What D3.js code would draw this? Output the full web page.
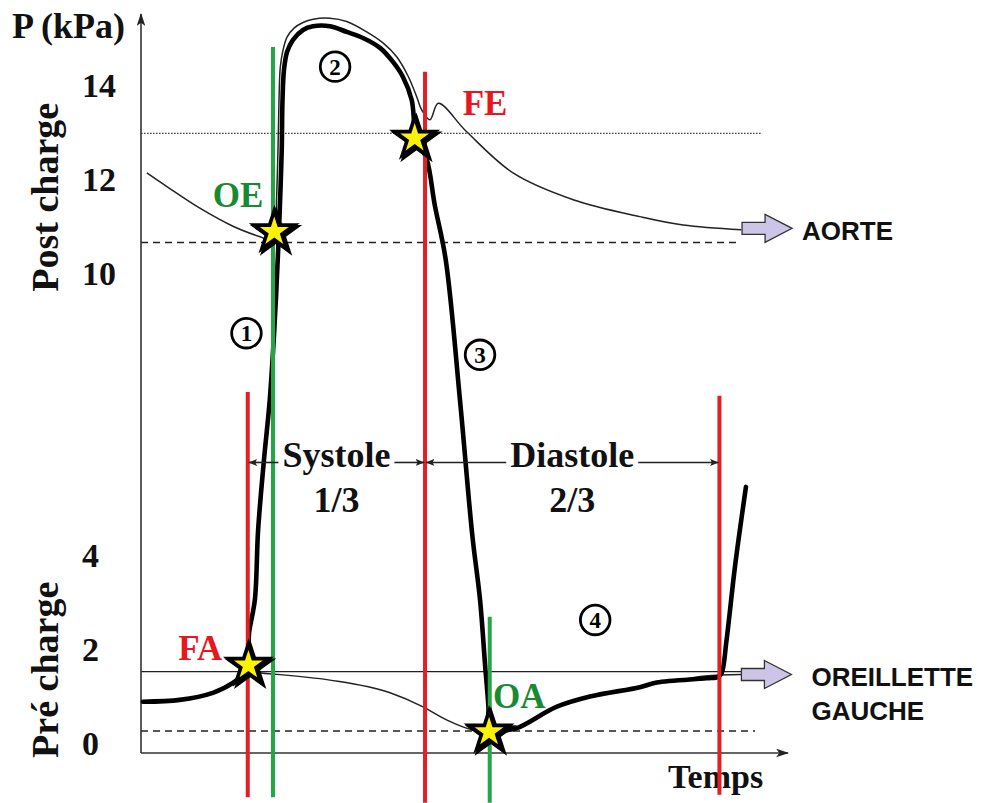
<!DOCTYPE html>
<html><head><meta charset="utf-8">
<script src="https://cdn.jsdelivr.net/npm/d3@7"></script>
<style>body{margin:0;background:#fff}svg{display:block}</style>
</head><body>
<svg id="c" width="982" height="803"></svg>
<script>
// ---- DATA (time in arbitrary units 0–100, pressure in kPa) ----
const ventricleT = [0.3, 6.0, 11.1, 14.2, 16.1, 16.6, 16.7, 17.6, 18.1, 19.0, 19.9, 20.6, 21.2, 21.5, 21.75, 21.87, 22.1, 22.57, 23.49, 25.04, 26.58, 29.21, 31.79, 34.31, 36.94, 38.95, 40.49, 41.84, 42.5, 44.2, 45.4, 47.1, 49.3, 51.2, 52.4, 53.2, 53.7, 53.85, 55.5, 58.1, 64.2, 69.4, 77.1, 79.7, 87.4, 89.2, 89.75, 90.5, 91.8, 93.5];
const ventricleP = [0.87, 0.91, 1.06, 1.27, 1.51, 1.86, 2.33, 3.04, 4.52, 6.01, 7.29, 8.78, 10.48, 11.54, 12.60, 13.67, 14.31, 14.69, 14.95, 15.16, 15.24, 15.24, 15.12, 14.99, 14.78, 14.48, 14.16, 13.67, 12.92, 12.39, 11.44, 10.27, 7.29, 4.42, 3.04, 1.62, 0.76, 0.23, 0.25, 0.31, 0.76, 0.98, 1.18, 1.28, 1.37, 1.40, 1.48, 2.18, 3.74, 5.44];

const aortaT = [0.9, 4.0, 9.1, 14.3, 18.4, 20.56, 20.94, 21.17, 21.33, 21.53, 21.95, 22.57, 23.65, 25.04, 26.63, 29.21, 31.79, 34.88, 37.45, 39.52, 41.31, 42.61, 43.38, 44.67, 45.95, 50.3, 57.5, 66.8, 77.1, 83.8, 92.8];
const aortaP = [12.12, 11.83, 11.37, 10.98, 10.76, 10.67, 11.54, 12.60, 13.67, 14.37, 14.73, 15.01, 15.20, 15.32, 15.39, 15.41, 15.34, 15.12, 14.88, 14.59, 14.17, 13.74, 13.46, 13.25, 13.60, 13.00, 12.12, 11.55, 11.19, 11.01, 10.91];

const atriumT = [16.6, 18.6, 20.4, 29.2, 38.5, 43.6, 47.3, 51.3, 53.85];
const atriumP = [1.59, 1.48, 1.46, 1.33, 1.06, 0.76, 0.48, 0.27, 0.23];
const atriumTailT = [83.3, 87.2, 92.8];
const atriumTailP = [1.33, 1.42, 1.45];

const eventNames = ["FA", "OE", "FE", "OA", "FA"];
const eventT = [16.5, 20.4, 43.9, 53.9, 89.4];
const eventTopP = [7.46, 14.80, 14.27, 2.68, 7.38];
const eventBottomP = [-1.16, -1.16, -1.28, -1.28, -1.11];

const starNames = ["FA", "OE", "FE", "OA"];
const starT = [16.6, 20.6, 42.3, 53.8];
const starP = [1.65, 10.87, 12.86, 0.23];

const refLineP = [12.96, 10.64, 1.51, 0.25];
const refLineEndT = [96.0, 92.3, 92.9, 94.9];
const refLineKind = ["dotted", "dashed", "solid", "dashed"];

const yTickValues = [0, 2, 4, 10, 12, 14];
const yTitle = "P (kPa)";
const xTitle = "Temps";
const zoneTitles = ["Post charge", "Pré charge"];
const zoneCenterP = [11.6, 1.55];

const phaseNames = ["Systole", "Diastole"];
const phaseFractions = ["1/3", "2/3"];
const phaseStartT = [16.5, 43.9];
const phaseEndT = [43.9, 89.4];
const phaseLevelP = 5.96;

const stepNumbers = ["1", "2", "3", "4"];
const stepT = [16.3, 30.0, 52.4, 70.2];
const stepP = [8.71, 14.38, 8.25, 2.61];

const outletNames = [["AORTE"], ["OREILLETTE", "GAUCHE"]];
const outletT = [92.9, 92.8];
const outletP = [10.94, 1.45];

// ---- STYLES / LAYOUT ----
const RED = "#e31e24", GREEN = "#22a744", RED_TXT = "#e8161e", GREEN_TXT = "#178a32";
const SERIF = "'Liberation Serif','Times New Roman',serif";
const SANS = "'Liberation Sans',Arial,sans-serif";

const svg = d3.select("#c");
const x = d3.scaleLinear().domain([0, 100]).range([141, 788]);
const y = d3.scaleLinear().domain([-0.22, 15.5]).range([753, 14]);

const defs = svg.append("defs");
defs.append("marker").attr("id", "axArrow").attr("viewBox", "0 0 12 8")
  .attr("refX", 11).attr("refY", 4).attr("markerWidth", 13).attr("markerHeight", 9)
  .attr("markerUnits", "userSpaceOnUse").attr("orient", "auto")
  .append("path").attr("d", "M0,0L12,4L0,8L3,4Z").attr("fill", "#222");
defs.append("marker").attr("id", "phArrow").attr("viewBox", "0 0 10 8")
  .attr("refX", 9.5).attr("refY", 4).attr("markerWidth", 9).attr("markerHeight", 7)
  .attr("markerUnits", "userSpaceOnUse").attr("orient", "auto")
  .append("path").attr("d", "M0,0L10,4L0,8L2,4Z").attr("fill", "#222");

const pts = (T, P) => T.map((t, i) => [t, P[i]]);
const line = d3.line().x(d => x(d[0])).y(d => y(d[1]));
const smooth = d3.line().x(d => x(d[0])).y(d => y(d[1])).curve(d3.curveMonotoneX);
const round = d3.line().x(d => x(d[0])).y(d => y(d[1])).curve(d3.curveCatmullRom.alpha(0.5));

// reference horizontal lines
refLineP.forEach((p, i) => {
  const k = refLineKind[i];
  svg.append("path").attr("d", line([[0, p], [refLineEndT[i], p]]))
    .attr("fill", "none")
    .attr("stroke", k === "dotted" ? "#444" : "#222")
    .attr("stroke-width", k === "dotted" ? 1.3 : (k === "solid" ? 1.3 : 1.5))
    .attr("stroke-dasharray", k === "dotted" ? "1.6,1.4" : (k === "dashed" ? "7,5" : null));
});

// axes
const yAxis = d3.axisLeft(y).tickValues(yTickValues).tickSize(0).tickFormat(d3.format("d"));
const gy = svg.append("g").attr("transform", `translate(${x(0)},0)`).call(yAxis);
gy.select(".domain").remove();
gy.selectAll("text").attr("x", 82 - x(0)).attr("text-anchor", "start")
  .attr("dy", "0.34em").style("font-family", SERIF).style("font-weight", "bold")
  .style("font-size", "34px").attr("fill", "#111");
const xAxis = d3.axisBottom(x).tickValues([]).tickSizeOuter(0);
const gx = svg.append("g").attr("transform", `translate(0,${y(-0.22)})`).call(xAxis);
gx.select(".domain").remove();

svg.append("path").attr("d", line([[0, -0.22], [0, 15.5]]))
  .attr("stroke", "#333").attr("stroke-width", 1.6).attr("fill", "none").attr("marker-end", "url(#axArrow)");
svg.append("path").attr("d", line([[0, -0.22], [100, -0.22]]))
  .attr("stroke", "#333").attr("stroke-width", 1.6).attr("fill", "none").attr("marker-end", "url(#axArrow)");

// titles
svg.append("text").attr("x", 12).attr("y", 38).text(yTitle)
  .style("font-family", SERIF).style("font-weight", "bold").style("font-size", "36px").attr("fill", "#111");
svg.append("text").attr("x", 668).attr("y", 788).text(xTitle)
  .style("font-family", SERIF).style("font-weight", "bold").style("font-size", "34px").attr("fill", "#111");
zoneTitles.forEach((t, i) => {
  svg.append("text").attr("transform", `translate(58,${y(zoneCenterP[i])}) rotate(-90)`)
    .attr("text-anchor", "middle").text(t)
    .style("font-family", SERIF).style("font-weight", "bold").style("font-size", "38px").attr("fill", "#111");
});

// curves
svg.append("path").attr("d", round(pts(aortaT, aortaP)))
  .attr("fill", "none").attr("stroke", "#222").attr("stroke-width", 1.5);
svg.append("path").attr("d", smooth(pts(atriumT, atriumP)))
  .attr("fill", "none").attr("stroke", "#222").attr("stroke-width", 1.5);
svg.append("path").attr("d", smooth(pts(atriumTailT, atriumTailP)))
  .attr("fill", "none").attr("stroke", "#222").attr("stroke-width", 1.5);
svg.append("path").attr("d", round(pts(ventricleT, ventricleP)))
  .attr("fill", "none").attr("stroke", "#000").attr("stroke-width", 4.6)
  .attr("stroke-linejoin", "round").attr("stroke-linecap", "round");

// outlet arrows
outletNames.forEach((lines, i) => {
  const x0 = x(outletT[i]), y0 = y(outletP[i]);
  const body = 6, head = 14, bl = 23, hl = 50;
  svg.append("path")
    .attr("d", `M${x0},${y0 - body}H${x0 + bl}V${y0 - head}L${x0 + hl},${y0}L${x0 + bl},${y0 + head}V${y0 + body}H${x0}Z`)
    .attr("fill", "#cdc5e6").attr("stroke", "#333").attr("stroke-width", 1.3);
  const dx = i === 0 ? 60 : 70;
  lines.forEach((s, j) => {
    svg.append("text").attr("x", x0 + dx).attr("y", y0 + 11.5 + j * 34.5).text(s)
      .style("font-family", SANS).style("font-weight", "bold").style("font-size", "26px").attr("fill", "#111");
  });
});

// vertical event lines
eventNames.forEach((n, i) => {
  svg.append("path").attr("d", line([[eventT[i], eventBottomP[i]], [eventT[i], eventTopP[i]]]))
    .attr("stroke", n[0] === "F" ? RED : GREEN).attr("stroke-width", 4).attr("fill", "none");
});

// phase arrows
phaseNames.forEach((name, i) => {
  const xa = x(phaseStartT[i]), xb = x(phaseEndT[i]), mid = (xa + xb) / 2, yl = y(phaseLevelP);
  const t = svg.append("text").attr("x", mid).attr("y", yl + 5).attr("text-anchor", "middle").text(name)
    .style("font-family", SERIF).style("font-weight", "bold").style("font-size", "36px").attr("fill", "#111");
  svg.append("text").attr("x", mid).attr("y", yl + 50).attr("text-anchor", "middle").text(phaseFractions[i])
    .style("font-family", SERIF).style("font-weight", "bold").style("font-size", "36px").attr("fill", "#111");
  const w = t.node().getComputedTextLength();
  svg.append("line").attr("x1", mid - w / 2 - 4).attr("x2", xa + 1).attr("y1", yl).attr("y2", yl)
    .attr("stroke", "#222").attr("stroke-width", 1.6).attr("marker-end", "url(#phArrow)");
  svg.append("line").attr("x1", mid + w / 2 + 4).attr("x2", xb - 1).attr("y1", yl).attr("y2", yl)
    .attr("stroke", "#222").attr("stroke-width", 1.6).attr("marker-end", "url(#phArrow)");
});

// circled step numbers
stepNumbers.forEach((s, i) => {
  const cx = x(stepT[i]), cy = y(stepP[i]);
  svg.append("circle").attr("cx", cx).attr("cy", cy).attr("r", 14.8)
    .attr("fill", "#fff").attr("stroke", "#000").attr("stroke-width", 2.8);
  svg.append("text").attr("x", cx).attr("y", cy).attr("dy", "0.35em").attr("text-anchor", "middle").text(s)
    .style("font-family", SERIF).style("font-weight", "bold").style("font-size", "23px").attr("fill", "#000");
});

// stars
const starPath = d3.symbol().type(d3.symbolStar).size(21 * 21 / 0.8908)();
starNames.forEach((n, i) => {
  const cx = x(starT[i]), cy = y(starP[i]);
  svg.append("path").attr("d", starPath).attr("transform", `translate(${cx + 1.8},${cy + 1.8})`)
    .attr("fill", "#000").attr("stroke", "#000").attr("stroke-width", 4).attr("stroke-linejoin", "miter");
  svg.append("path").attr("d", starPath).attr("transform", `translate(${cx},${cy})`)
    .attr("fill", "#fff200").attr("stroke", "#000").attr("stroke-width", 3.6).attr("stroke-linejoin", "miter");
});

// star labels
const labelOffset = { FA: [-26, -5, "end"], OE: [-11, -25, "end"], FE: [48, -23, "start"], OA: [4, -24, "start"] };
starNames.forEach((n, i) => {
  const o = labelOffset[n];
  svg.append("text").attr("x", x(starT[i]) + o[0]).attr("y", y(starP[i]) + o[1])
    .attr("text-anchor", o[2]).text(n)
    .style("font-family", SERIF).style("font-weight", "bold").style("font-size", "35px")
    .attr("fill", n[0] === "F" ? RED_TXT : GREEN_TXT);
});
</script>
</body></html>
